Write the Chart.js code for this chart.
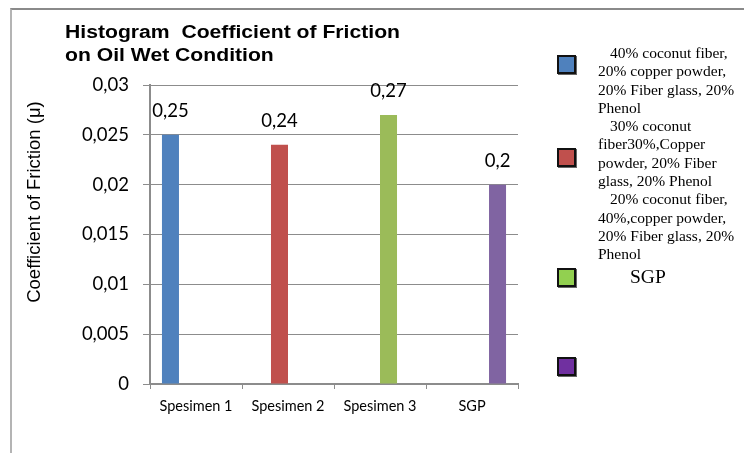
<!DOCTYPE html>
<html>
<head>
<meta charset="utf-8">
<script src="https://cdn.jsdelivr.net/npm/chart.js@4.4.0/dist/chart.umd.min.js"></script>
<style>
body { margin: 0; background: #fff; }
.wrap { position: relative; width: 744px; height: 453px; overflow: hidden; }
.frame { position: absolute; left: 10px; top: 8px; width: 800px; height: 500px; border-top: 2px solid #8a8a8a; border-left: 2px solid #b4b4b4; }
#chartFriction { position: absolute; left: 0; top: 0; }
.legend-box { position: absolute; left: 557px; width: 19px; height: 19px; box-sizing: border-box; border: 2px solid #111; box-shadow: 1px 1px 0 #666; }
.legend-text { position: absolute; left: 598px; top: 44px; font-family: "Liberation Serif", serif; font-size: 15.5px; line-height: 18.3px; color: #000; white-space: nowrap; }
.legend-text .first { padding-left: 12px; }
.legend-text .big { font-size: 19.5px; padding-left: 32px; line-height: 24px; margin-top: 1px; }
</style>
</head>
<body>
<div class="wrap">
    <div class="frame"></div>
    <canvas id="chartFriction" width="744" height="453"></canvas>
    <div id="legend"></div>
</div>
<script>
var categories = ['Spesimen 1', 'Spesimen 2', 'Spesimen 3', 'SGP'];
var spesimen1Values = [0.025, null, null, null];
var spesimen2Values = [null, 0.024, null, null];
var spesimen3Values = [null, null, 0.027, null];
var sgpValues = [null, null, null, 0.02];
var valueLabels = ['0,25', '0,24', '0,27', '0,2'];
var seriesNames = [
    ['40% coconut fiber,', '20% copper powder,', '20% Fiber glass, 20%', 'Phenol'],
    ['30% coconut', 'fiber30%,Copper', 'powder, 20% Fiber', 'glass, 20% Phenol'],
    ['20% coconut fiber,', '40%,copper powder,', '20% Fiber glass, 20%', 'Phenol'],
    ['SGP']
];
var titleLines = ['Histogram  Coefficient of Friction', 'on Oil Wet Condition'];
var yAxisTitle = 'Coefficient of Friction (\u03bc)';

chartVC = {};
chartVC.barColors = ['#4f81bd', '#c0504d', '#9bbb59', '#8064a2'];
chartVC.legendColors = ['#4f81bd', '#c0504d', '#92d050', '#7030a0'];
chartVC.legendTops = [55, 148, 268, 357];
chartVC.gridColor = '#8c8c8c';

chartVC.textPlugin = {
    id: 'textPlugin',
    afterDatasetsDraw: function(chart){
        var ctx = chart.ctx;
        ctx.save();
        ctx.fillStyle = '#000';
        ctx.font = '18.5px Lato';
        ctx.textAlign = 'center';
        ctx.textBaseline = 'middle';
        chart.data.datasets.forEach(function(ds, i){
            var meta = chart.getDatasetMeta(i);
            meta.data.forEach(function(bar, j){
                if(ds.data[j] == null) return;
                ctx.fillText(valueLabels[i], bar.x, bar.y - 23.5);
            });
        });
        ctx.restore();
    },
    afterDraw: function(chart){
        var ctx = chart.ctx;
        ctx.save();
        ctx.fillStyle = '#000';
        ctx.font = 'bold 18px "Liberation Sans"';
        ctx.textAlign = 'left';
        ctx.textBaseline = 'alphabetic';
        // the original title is a bit wider than the font alone gives
        var w = ctx.measureText(titleLines[0]).width;
        ctx.save();
        ctx.translate(65, 0);
        ctx.scale(335 / w, 1);
        ctx.fillText(titleLines[0], 0, 38);
        ctx.fillText(titleLines[1], 0, 61);
        ctx.restore();

        ctx.font = '18.5px "Liberation Sans"';
        ctx.textAlign = 'center';
        ctx.textBaseline = 'middle';
        ctx.translate(35, 202);
        ctx.rotate(-Math.PI / 2);
        ctx.fillText(yAxisTitle, 0, 0);
        ctx.restore();
    }
};

chartVC.formatTick = function(value){
    return parseFloat(value.toFixed(4)).toString().replace('.', ',');
};

chartVC.createLegend = function(){
    var $legend = document.getElementById('legend');
    var html = '';
    chartVC.legendColors.forEach(function(color, i){
        html += '<div class="legend-box" style="top:' + chartVC.legendTops[i] + 'px;background:' + color + '"></div>';
    });
    html += '<div class="legend-text">';
    seriesNames.forEach(function(lines, i){
        if(i == seriesNames.length - 1){
            html += '<div class="big">' + lines[0] + '</div>';
            return;
        }
        lines.forEach(function(line, k){
            html += '<div' + (k == 0 ? ' class="first"' : '') + '>' + line + '</div>';
        });
    });
    html += '</div>';
    $legend.innerHTML = html;
};

chartVC.createChart = function(){
    var allValues = [spesimen1Values, spesimen2Values, spesimen3Values, sgpValues];
    var datasets = allValues.map(function(values, i){
        return {
            label: seriesNames[i].join(' '),
            data: values,
            backgroundColor: chartVC.barColors[i],
            borderWidth: 0,
            barPercentage: 1.0,
            categoryPercentage: 0.74
        };
    });

    return new Chart(document.getElementById('chartFriction').getContext('2d'), {
        type: 'bar',
        data: {
            labels: categories,
            datasets: datasets
        },
        options: {
            responsive: false,
            animation: false,
            devicePixelRatio: 1,
            layout: {
                padding: { left: 0, top: 85, right: 226, bottom: 34 }
            },
            plugins: {
                legend: { display: false },
                title: { display: false },
                tooltip: { enabled: false }
            },
            scales: {
                x: {
                    offset: true,
                    grid: {
                        drawOnChartArea: false,
                        color: chartVC.gridColor,
                        tickLength: 5
                    },
                    border: { color: chartVC.gridColor, width: 2 },
                    ticks: {
                        color: '#000',
                        font: { family: 'Lato', size: 14.5 },
                        padding: 9,
                        maxRotation: 0
                    },
                    afterFit: function(scale){ scale.height = 35; }
                },
                y: {
                    min: 0,
                    max: 0.03,
                    grid: {
                        color: chartVC.gridColor,
                        tickLength: 7
                    },
                    border: { color: chartVC.gridColor, width: 2 },
                    ticks: {
                        stepSize: 0.005,
                        color: '#000',
                        font: { family: 'Lato', size: 18.5 },
                        padding: 14,
                        callback: chartVC.formatTick
                    },
                    afterFit: function(scale){ scale.width = 150; }
                }
            }
        },
        plugins: [chartVC.textPlugin]
    });
};

chartVC.createLegend();
chartVC.chart = chartVC.createChart();
</script>
</body>
</html>
